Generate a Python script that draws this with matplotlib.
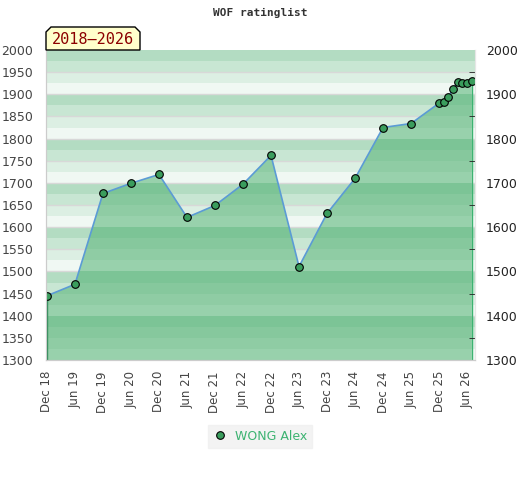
import matplotlib
matplotlib.use('Agg')
import matplotlib.pyplot as plt
from matplotlib.patches import Polygon

# rating history (year-month, rating)
dates = ["2018-12", "2019-06", "2019-12", "2020-06", "2020-12", "2021-06", "2021-12",
         "2022-06", "2022-12", "2023-06", "2023-12", "2024-06", "2024-12", "2025-06",
         "2025-12", "2026-01", "2026-02", "2026-03", "2026-04", "2026-05", "2026-06", "2026-07"]
ratings = [1445, 1471, 1676, 1699, 1719, 1622, 1649,
           1697, 1762, 1511, 1631, 1710, 1825, 1834,
           1880, 1883, 1893, 1913, 1927, 1925, 1925, 1929]
player = "WONG Alex"
period = "2018\u20132026"

tick_labels = ["Dec 18", "Jun 19", "Dec 19", "Jun 20", "Dec 20", "Jun 21", "Dec 21", "Jun 22",
               "Dec 22", "Jun 23", "Dec 23", "Jun 24", "Dec 24", "Jun 25", "Dec 25", "Jun 26"]


def month_index(s):
    y, m = s.split("-")
    return (int(y) - 2018) * 12 + int(m) - 12


x = [month_index(d) for d in dates]
tick_pos = list(range(0, 91, 6))

light_bands = ["#b3dcc2", "#c8e6d3", "#dcefe3", "#f0f8f3"]
dark_bands = ["#7cc496", "#86c89d", "#8fcca4", "#98d1ac"]

fig = plt.figure(figsize=(5.2, 4.8), dpi=100)
ax = fig.add_axes([46 / 520, 120 / 480, 429 / 520, 310 / 480])
ax.set_xlim(-0.2, 91.7)
ax.set_ylim(1300, 2000)

# background bands
fill = ax.fill_between(x, ratings, 1300, color="none", lw=0)
clip_path = fill.get_paths()[0]
for lo in range(1300, 2000, 25):
    k = 3 - ((lo - 1300) // 25) % 4
    ax.axhspan(lo, lo + 25, color=light_bands[k], lw=0, zorder=0)
    r = ax.axhspan(lo, lo + 25, color=dark_bands[k], lw=0, zorder=1)
    r.set_clip_path(clip_path, ax.transData)
for g in range(1350, 2000, 50):
    ax.axhline(g, color="#d8d8d8", lw=1, zorder=0.5)

ax.plot(x, ratings, color="#5b9bd5", lw=1.2, zorder=2)
ax.vlines(x[0], 1300, ratings[0], color="#2e8b57", lw=1, zorder=2)
ax.vlines(x[-1], 1300, ratings[-1], color="#3cb371", lw=1, zorder=2)
ax.plot(x, ratings, "o", ms=5.5, mfc="#3a9d5d", mec="black", mew=0.8, zorder=3,
        label=player)

ax.set_xticks(tick_pos)
ax.set_xticklabels(tick_labels, rotation=90, fontsize=8.5, color="#444444")
ax.tick_params(axis="x", length=0, pad=8)
ax.set_yticks(range(1300, 2001, 50))
ax.tick_params(axis="y", length=0, labelsize=9, labelcolor="#444444", pad=9)

ax2 = ax.twinx()
ax2.set_ylim(1300, 2000)
ax2.set_yticks(range(1300, 2001, 100))
ax2.set_yticks(range(1350, 2000, 100), minor=True)
ax2.tick_params(axis="y", which="major", length=0, labelsize=9, labelcolor="#222222", pad=8)
ax2.tick_params(axis="y", which="minor", length=4, direction="in", color="#222222")

for a in (ax, ax2):
    a.spines["top"].set_visible(False)
    a.spines["left"].set_color("#cccccc")
    a.spines["bottom"].set_color("#cccccc")
    a.spines["right"].set_color("#e6e6e6")

fig.text(0.5, 1 - 13 / 480, "WOF ratinglist", ha="center", va="center",
         family="DejaVu Sans Mono", weight="bold", fontsize=8, color="#333333")

# period tag above the plot
x0, x1, y0, y1, c = 46 / 520, 140 / 520, 1 - 50 / 480, 1 - 27 / 480, 5
tag = Polygon([(x0, y0), (x0, y1 - c / 480), (x0 + c / 520, y1), (x1 - c / 520, y1),
               (x1, y1 - c / 480), (x1, y0)], closed=True, transform=fig.transFigure,
              facecolor="#ffffcc", edgecolor="black", lw=1, zorder=5)
fig.patches.append(tag)
fig.text((x0 + x1) / 2, (y0 + y1) / 2 - 0.002, period, ha="center", va="center",
         family="DejaVu Sans Mono", fontsize=11, color="#8b0000", zorder=6)

leg = fig.legend(loc="center", bbox_to_anchor=(260 / 520, 1 - 436 / 480), frameon=True,
                 fontsize=9, handletextpad=0.6, borderpad=0.4, handlelength=1.2,
                 fancybox=False)
leg.get_frame().set_facecolor("#f0f0f0")
leg.get_frame().set_edgecolor("#f0f0f0")
for t in leg.get_texts():
    t.set_color("#3cb371")

fig.savefig("out.png", dpi=100)
plt.close(fig)
